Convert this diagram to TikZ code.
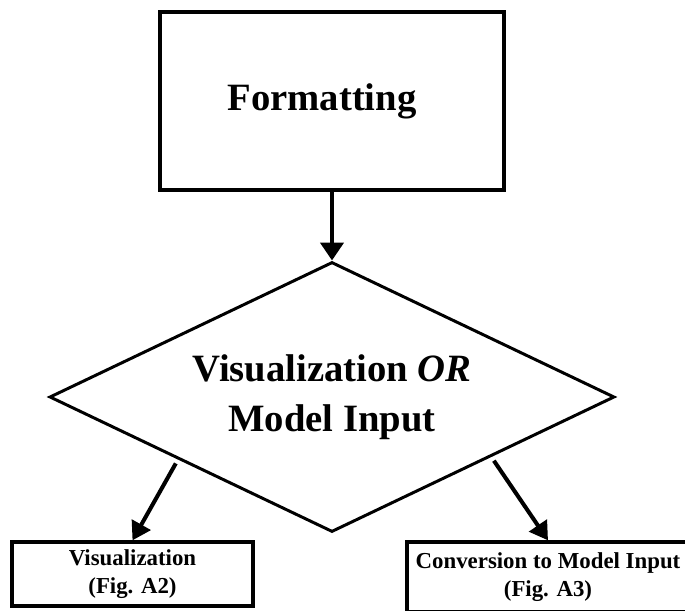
\documentclass[tikz,border=0pt]{standalone}
\usepackage{fontspec}
\setmainfont{Liberation Serif}
\usetikzlibrary{shapes.geometric, arrows.meta, calc}
\tikzset{
  % --- Hop / thoi -------------------------------------------
  procbig/.style={draw, line width=1.9pt, fill=white, minimum width=6.88cm,
    minimum height=3.56cm, align=center, inner sep=0pt,
    font=\fontsize{22}{28}\selectfont\bfseries},
  dec/.style={draw, diamond, aspect=2.09, line width=1.7pt, fill=white,
    minimum width=11.3cm, minimum height=5.4cm, align=center, inner sep=0pt,
    font=\fontsize{22}{28.5}\selectfont\bfseries},
  procs/.style={draw, line width=1.9pt, fill=white, minimum height=1.28cm,
    align=center, inner sep=0pt, font=\fontsize{13}{16}\selectfont\bfseries},
  arr/.style={-{Triangle[length=0.36cm, width=0.46cm]}, line width=2.8pt},
  arrs/.style={-{Triangle[length=0.36cm, width=0.42cm]}, line width=2.3pt}
}
\begin{document}
\begin{tikzpicture}

  \useasboundingbox (0,0) rectangle (13.7,12.2);

  % --- Cac nut ----------------------------------------------
  \node[procbig] (FMT) at (6.64,10.18) {Formatting\hspace*{0.4cm}};
  \node[dec] (DEC) at (6.64,4.26) {Visualization \textit{OR}\\Model Input};
  \node[procs, minimum width=4.82cm] (VIS) at (2.65,0.72)
    {Visualization\\(Fig. A2)};
  \node[procs, minimum width=5.64cm, minimum height=1.4cm] (CONV) at (10.96,0.66)
    {Conversion to Model Input\\(Fig. A3)};

  % --- Diem xuat phat mui ten ---------------------------------
  \coordinate (VSTART) at ($(DEC.west)!0.45!(DEC.south)+(0,-0.1)$);
  \coordinate (CSTART) at ($(DEC.east)!0.43!(DEC.south)+(0,-0.1)$);

  % --- Mui ten ------------------------------------------------
  \draw[arr] (FMT.south) -- (DEC.north);
  \draw[arrs] (VSTART) -- (VIS.north);
  \draw[arrs] (CSTART) -- (CONV.north);

\end{tikzpicture}
\end{document}
